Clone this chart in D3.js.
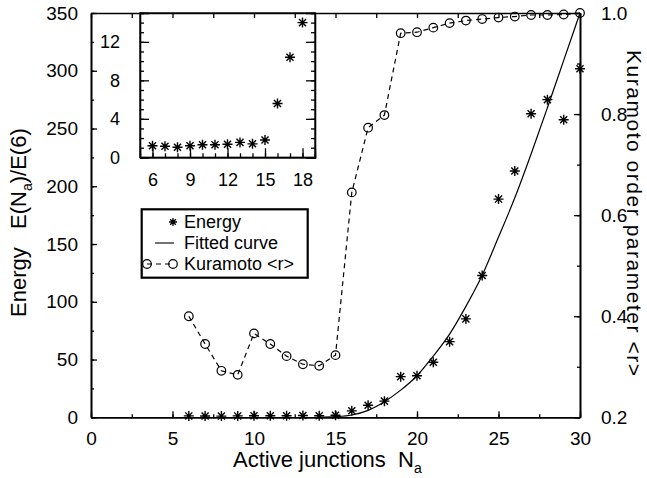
<!DOCTYPE html>
<html>
<head>
<meta charset="utf-8">
<script src="https://cdn.jsdelivr.net/npm/d3@7"></script>
<style>
  body { margin: 0; background: #fff; }
  text { font-family: "Liberation Sans", Arial, Helvetica, sans-serif; fill: #000; }
</style>
</head>
<body>
<div id="d3-container"></div>
<script>
/* CONSTANTS AND GLOBALS */
const width = 647,
  height = 478,
  margin = { top: 13, bottom: 60.7, left: 91, right: 67 };

// active junctions N_a
const junctions = [6, 7, 8, 9, 10, 11, 12, 13, 14, 15, 16, 17, 18, 19, 20, 21, 22, 23, 24, 25, 26, 27, 28, 29, 30];
// energy E(N_a)/E(6)
const energy = [1.2, 1.15, 1.05, 1.2, 1.3, 1.3, 1.35, 1.55, 1.4, 1.8, 5.6, 10.4, 14.0, 35.2, 36, 47.7, 65.5, 85.2, 122.7, 188.9, 213.2, 262.8, 275, 257.6, 301.8];
// kuramoto order parameter <r>
const kuramoto = [0.400, 0.345, 0.292, 0.284, 0.366, 0.345, 0.321, 0.305, 0.302, 0.323, 0.645, 0.773, 0.798, 0.960, 0.962, 0.971, 0.980, 0.985, 0.988, 0.991, 0.993, 0.996, 0.996, 0.997, 1.0];
// fitted curve
const fitN = [14, 15, 16, 17, 18, 19, 20, 21, 22, 23, 24, 25, 26, 27, 28, 29, 30];
const fitE = [0, 0.5, 2, 6, 13.5, 23.5, 36, 53, 72, 96, 123, 156, 190, 228, 268, 309, 350];

const xTicks = [0, 5, 10, 15, 20, 25, 30];
const yTicks = [0, 50, 100, 150, 200, 250, 300, 350];
const rTicks = [0.2, 0.4, 0.6, 0.8, 1.0];
const insetXTicks = [6, 9, 12, 15, 18];
const insetYTicks = [0, 4, 8, 12];
const legendLabels = ["Energy", "Fitted curve", "Kuramoto <r>"];

const data = junctions.map((n, i) => ({ n: n, e: energy[i], r: kuramoto[i] }));
const fit = fitN.map((n, i) => ({ n: n, e: fitE[i] }));

const svg = d3.select("#d3-container")
  .append("svg")
    .attr("width", width)
    .attr("height", height);

const xScale = d3.scaleLinear().domain([0, 30]).range([margin.left, width - margin.right]);
const yScale = d3.scaleLinear().domain([0, 350]).range([height - margin.bottom, margin.top]);
const rScale = d3.scaleLinear().domain([0.2, 1.0]).range([height - margin.bottom, margin.top]);

// inset scales
const ixScale = d3.scaleLinear().domain([5, 19]).range([140, 315]);
const iyScale = d3.scaleLinear().domain([0, 15]).range([height - margin.bottom - 260, margin.top]);

// 8-armed asterisk marker
const asterisk = {
  draw(context, size) {
    const r = Math.sqrt(size) / 2;
    const d = r * Math.SQRT1_2;
    context.moveTo(0, -r); context.lineTo(0, r);
    context.moveTo(-r, 0); context.lineTo(r, 0);
    context.moveTo(-d, -d); context.lineTo(d, d);
    context.moveTo(-d, d); context.lineTo(d, -d);
  }
};
const star = d3.symbol().type(asterisk).size(100);

function styleAxis(g, width) {
  g.select(".domain").attr("stroke", "#000").attr("stroke-width", width);
  g.selectAll(".tick line").attr("stroke", "#000").attr("stroke-width", 1.3);
  g.selectAll("text").attr("fill", "#000");
}

/* INSET */
const inset = svg.append("g").attr("class", "inset");

inset.append("rect")
  .attr("x", ixScale(5))
  .attr("y", iyScale(15))
  .attr("width", ixScale(19) - ixScale(5))
  .attr("height", iyScale(0) - iyScale(15))
  .attr("fill", "#fff")
  .attr("stroke", "#000")
  .attr("stroke-width", 1.3);

inset.append("g")
  .attr("transform", `translate(0,${iyScale(0)})`)
  .call(d3.axisBottom(ixScale).tickValues(d3.range(6, 19)).tickSize(-4).tickFormat(""))
  .call(g => styleAxis(g, 1.3));
inset.append("g")
  .attr("transform", `translate(0,${iyScale(0)})`)
  .call(d3.axisBottom(ixScale).tickValues(insetXTicks).tickSize(-9).tickPadding(16))
  .call(g => g.selectAll("text").attr("font-size", 18))
  .call(g => styleAxis(g, 1.3));

inset.append("g")
  .attr("transform", `translate(${ixScale(5)},0)`)
  .call(d3.axisLeft(iyScale).tickValues(d3.range(0, 16)).tickSize(-4).tickFormat(""))
  .call(g => styleAxis(g, 1.3));
inset.append("g")
  .attr("transform", `translate(${ixScale(5)},0)`)
  .call(d3.axisLeft(iyScale).tickValues(insetYTicks).tickSize(-9).tickPadding(20))
  .call(g => g.selectAll("text").attr("font-size", 18))
  .call(g => styleAxis(g, 1.3));

inset.append("g")
  .attr("transform", `translate(${ixScale(19)},0)`)
  .call(d3.axisRight(iyScale).tickValues(d3.range(0, 16)).tickSize(-4).tickFormat(""))
  .call(g => styleAxis(g, 1.3));
inset.append("g")
  .attr("transform", `translate(${ixScale(19)},0)`)
  .call(d3.axisRight(iyScale).tickValues(insetYTicks).tickSize(-9).tickFormat(""))
  .call(g => styleAxis(g, 1.3));

inset.selectAll(".istar")
  .data(data.filter(d => d.n <= 18))
  .join("path")
    .attr("class", "istar")
    .attr("d", star)
    .attr("transform", d => `translate(${ixScale(d.n)},${iyScale(d.e)})`)
    .attr("fill", "none")
    .attr("stroke", "#000")
    .attr("stroke-width", 1.4);

/* MAIN AXES */
const bottom = height - margin.bottom;

svg.append("g")
  .attr("transform", `translate(0,${bottom})`)
  .call(d3.axisBottom(xScale).tickValues(d3.range(0, 31, 2.5)).tickSize(-3).tickFormat("").tickSizeOuter(0))
  .call(g => styleAxis(g, 1.6));
svg.append("g")
  .attr("transform", `translate(0,${bottom})`)
  .call(d3.axisBottom(xScale).tickValues(xTicks).tickSize(-6).tickPadding(14).tickSizeOuter(0))
  .call(g => g.selectAll("text").attr("font-size", 19))
  .call(g => styleAxis(g, 1.6));

svg.append("g")
  .attr("transform", `translate(0,${margin.top})`)
  .call(d3.axisTop(xScale).tickValues(d3.range(0, 31, 2.5)).tickSize(-5).tickFormat("").tickSizeOuter(0))
  .call(g => styleAxis(g, 1.6));

svg.append("g")
  .attr("transform", `translate(${margin.left},0)`)
  .call(d3.axisLeft(yScale).tickValues(d3.range(0, 351, 25)).tickSize(-3).tickFormat("").tickSizeOuter(0))
  .call(g => styleAxis(g, 1.6));
svg.append("g")
  .attr("transform", `translate(${margin.left},0)`)
  .call(d3.axisLeft(yScale).tickValues(yTicks).tickSize(-6).tickPadding(13).tickSizeOuter(0))
  .call(g => g.selectAll("text").attr("font-size", 19))
  .call(g => styleAxis(g, 1.6));

svg.append("g")
  .attr("transform", `translate(${width - margin.right},0)`)
  .call(d3.axisRight(rScale).tickValues(d3.range(2, 11).map(d => d / 10)).tickSize(-3).tickFormat("").tickSizeOuter(0))
  .call(g => styleAxis(g, 1.6));
svg.append("g")
  .attr("transform", `translate(${width - margin.right},0)`)
  .call(d3.axisRight(rScale).tickValues(rTicks).tickSize(-6).tickPadding(21).tickFormat(d3.format(".1f")).tickSizeOuter(0))
  .call(g => g.selectAll("text").attr("font-size", 19))
  .call(g => styleAxis(g, 1.6));

/* AXIS TITLES */
const xTitle = svg.append("text")
  .attr("x", 233)
  .attr("y", 467)
  .attr("font-size", 22)
  .style("white-space", "pre");
xTitle.append("tspan").text("Active junctions  N");
xTitle.append("tspan").attr("font-size", 14).attr("dy", 6).text("a");

const yTitle = svg.append("text")
  .attr("transform", "translate(26,317) rotate(-90)")
  .attr("font-size", 22)
  .style("white-space", "pre");
yTitle.append("tspan").text("Energy   E(N");
yTitle.append("tspan").attr("font-size", 14).attr("dy", 6).text("a");
yTitle.append("tspan").attr("dy", -6).text(")/E(6)");

svg.append("text")
  .attr("transform", "translate(627,50) rotate(90)")
  .attr("font-size", 21)
  .attr("textLength", 326)
  .attr("lengthAdjust", "spacing")
  .text("Kuramoto order parameter <r>");

/* DATA MARKS */
svg.append("path")
  .datum(fit)
  .attr("fill", "none")
  .attr("stroke", "#000")
  .attr("stroke-width", 1.2)
  .attr("d", d3.line().x(d => xScale(d.n)).y(d => yScale(d.e)).curve(d3.curveMonotoneX));

svg.append("path")
  .datum(data)
  .attr("fill", "none")
  .attr("stroke", "#000")
  .attr("stroke-width", 1.2)
  .attr("stroke-dasharray", "5,4")
  .attr("d", d3.line().x(d => xScale(d.n)).y(d => rScale(d.r)));

svg.selectAll(".kdot")
  .data(data)
  .join("circle")
    .attr("class", "kdot")
    .attr("cx", d => xScale(d.n))
    .attr("cy", d => rScale(d.r))
    .attr("r", 4.3)
    .attr("fill", "none")
    .attr("stroke", "#000")
    .attr("stroke-width", 1.2);

svg.selectAll(".estar")
  .data(data)
  .join("path")
    .attr("class", "estar")
    .attr("d", star)
    .attr("transform", d => `translate(${xScale(d.n)},${yScale(d.e)})`)
    .attr("fill", "none")
    .attr("stroke", "#000")
    .attr("stroke-width", 1.4);

/* LEGEND */
const legend = svg.append("g").attr("class", "legend");
legend.append("rect")
  .attr("x", 141.7).attr("y", 209.3)
  .attr("width", 166).attr("height", 68.4)
  .attr("fill", "#fff")
  .attr("stroke", "#000")
  .attr("stroke-width", 2.2);

legend.selectAll(".ltext")
  .data(legendLabels)
  .join("text")
    .attr("class", "ltext")
    .attr("x", 184)
    .attr("y", (d, i) => 228 + i * 21)
    .attr("font-size", 18)
    .text(d => d);

legend.append("path")
  .attr("d", d3.symbol().type(asterisk).size(64))
  .attr("transform", "translate(173,222)")
  .attr("fill", "none")
  .attr("stroke", "#000")
  .attr("stroke-width", 1.3);

legend.append("line")
  .attr("x1", 155).attr("x2", 174).attr("y1", 243).attr("y2", 243)
  .attr("stroke", "#000").attr("stroke-width", 1.1);

legend.append("line")
  .attr("x1", 147).attr("x2", 173).attr("y1", 264).attr("y2", 264)
  .attr("stroke", "#000").attr("stroke-width", 1.1)
  .attr("stroke-dasharray", "5,4");
legend.selectAll(".lcirc")
  .data([147, 173])
  .join("circle")
    .attr("class", "lcirc")
    .attr("cx", d => d).attr("cy", 264).attr("r", 4.3)
    .attr("fill", "none").attr("stroke", "#000").attr("stroke-width", 1.2);
</script>
</body>
</html>
